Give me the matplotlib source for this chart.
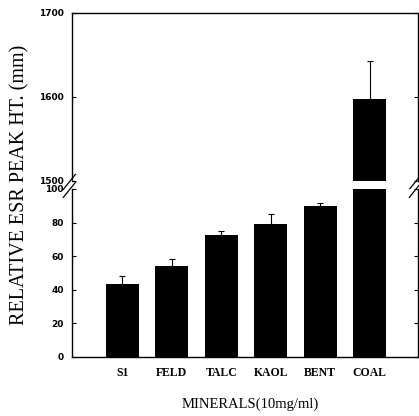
import matplotlib
matplotlib.use("Agg")
import matplotlib.pyplot as plt
import numpy as np

# data
minerals = ["S1", "FELD", "TALC", "KAOL", "BENT", "COAL"]
peak_ht = [43.5, 54.3, 72.4, 79.2, 90.0, 1598]
err_up = [4.7, 3.8, 2.6, 5.8, 1.5, 45]

x = np.arange(len(minerals))
W, H = 419, 416
fig = plt.figure(figsize=(W / 100, H / 100), dpi=100)

left = 72 / W
width = 346 / W
ax_top = fig.add_axes([left, 1 - 181 / H, width, (181 - 13) / H])
ax_bot = fig.add_axes([left, 1 - 357 / H, width, (357 - 189) / H])

for ax in (ax_top, ax_bot):
    ax.bar(x, peak_ht, width=0.67, color="black", zorder=2)
    ax.errorbar(x, peak_ht, yerr=[np.zeros(len(err_up)), err_up], fmt="none",
                ecolor="black", elinewidth=0.8, capsize=2, capthick=0.8, zorder=1)
    ax.set_xlim(-1.02, 5.98)
    ax.tick_params(axis="y", direction="in", length=3, width=0.8,
                   right=True, labelsize=6.5, pad=6)
    for s in ax.spines.values():
        s.set_linewidth(1.0)

ax_top.set_ylim(1500, 1700)
ax_top.set_yticks([1500, 1600, 1700])
ax_top.spines["bottom"].set_visible(False)
ax_top.tick_params(axis="x", bottom=False, labelbottom=False)
for lab in ax_top.get_yticklabels():
    lab.set_fontweight("bold")

ax_bot.set_ylim(0, 100)
ax_bot.set_yticks([0, 20, 40, 60, 80, 100])
ax_bot.spines["top"].set_visible(False)
ax_bot.set_xticks(x)
ax_bot.set_xticklabels(minerals, fontfamily="Liberation Serif",
                       fontweight="bold", fontsize=8.5)
ax_bot.tick_params(axis="x", bottom=False, pad=4)
for lab in ax_bot.get_yticklabels():
    lab.set_fontweight("bold")

# break marks on both spines
kw = dict(color="black", lw=0.9, clip_on=False)
ax_top.plot([-0.025, 0.01], [-0.05, 0.04], transform=ax_top.transAxes, **kw)
ax_top.plot([0.975, 1.01], [-0.05, 0.04], transform=ax_top.transAxes, **kw)
ax_bot.plot([-0.025, 0.01], [0.95, 1.04], transform=ax_bot.transAxes, **kw)
ax_bot.plot([0.975, 1.01], [0.95, 1.04], transform=ax_bot.transAxes, **kw)

fig.text(20 / W, 1 - 185 / H, "RELATIVE ESR PEAK HT. (mm)", rotation=90,
         ha="center", va="center", fontfamily="Liberation Serif", fontsize=14.5)
fig.text(250 / W, 1 - 404 / H, "MINERALS(10mg/ml)", ha="center", va="center",
         fontfamily="Liberation Serif", fontsize=10.5)

fig.savefig("out.png", dpi=100)
